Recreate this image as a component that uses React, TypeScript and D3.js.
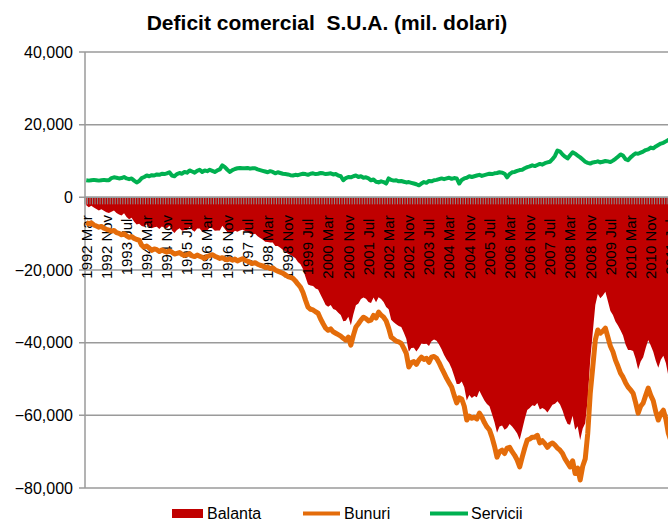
import React from 'react';
import * as d3 from 'd3';

const title = 'Deficit comercial  S.U.A. (mil. dolari)';
const monthNames = ['Jan', 'Feb', 'Mar', 'Apr', 'May', 'Jun', 'Jul', 'Aug', 'Sep', 'Oct', 'Nov', 'Dec'];
const startYear = 1992;
const startMonth = 2; // Mar
const labelStep = 8;
const yTicks = [-80000, -60000, -40000, -20000, 0, 20000, 40000];
const seriesNames = ['Balanta', 'Bunuri', 'Servicii'];

// goods, monthly, 1992 Mar .. 2011 Jul
const bunuri = [
  -6900, -7300, -7000, -7600, -7900, -8200, -8000, -8500, -8800, -9000,
  -9300, -9100, -9700, -9900, -10300, -10000, -10600, -11000, -10800, -11300, -11600, -11800,
  -13200, -13700, -13400, -14000, -14600, -14200, -14400, -14900, -14500, -14800, -15100, -14700,
  -15100, -15600, -15400, -15200, -15700, -16000, -15800, -15500, -16100, -16300, -15900, -16200,
  -16500, -16800, -16300, -16000, -15800, -16200, -16500, -16800, -16600, -17000, -17200, -16900,
  -17300, -17000, -17500, -17200, -16900, -17300, -17600, -17900, -18200, -18000, -18400, -18700,
  -18900, -19300, -19200, -19600, -19400, -20000, -20300, -20600, -20900, -21300, -21800, -22000,
  -22300, -23000, -23900, -24700, -26200, -28300, -30200, -30800, -31000, -31500, -31900, -33500,
  -34800, -36000, -36600, -36200, -37000, -37400, -37800, -38200, -38800, -39300, -38500, -40700,
  -38000, -35700, -34800, -33800, -33000, -33400, -34000, -33800, -32500, -33200, -31600, -32400,
  -33000, -34000, -36000, -38500, -39000, -39600, -39800, -40200, -41500, -43000, -46700, -45500,
  -45200, -46000, -44800, -44000, -44600, -44300, -45400, -44000, -43800, -44300, -45500, -47000,
  -48400, -49800, -51000, -52200, -54500, -56600, -55200, -55500, -57500, -61300, -60200, -60800,
  -60500, -61000, -59400, -60500, -62000, -63200, -64000, -66000, -68500, -71500, -70000, -69600,
  -70500, -69000, -68800, -70000, -71000, -72300, -74200, -71500, -69000, -66800, -66500, -66000,
  -66000, -65500, -67600, -67000, -67800, -68800, -68000, -67600, -68200, -69000, -69600, -70500,
  -72000, -73100, -74200, -72500, -76000, -74500, -77800, -74000, -72000, -65000, -53900, -46700,
  -39300, -36500, -37400, -36800, -36000, -38500, -41000, -42500, -44800, -46500, -48400, -49500,
  -51000, -52200, -53000, -53900, -56500, -59400, -57500, -56600, -54500, -52500, -54500, -56000,
  -59000, -61300, -59500, -58600, -61000, -65000, -67000,
];

// services, monthly, 1992 Mar .. 2011 Jul
const servicii = [
  4700, 4600, 4700, 4800, 4700, 4600, 4700, 4800, 4700, 4700,
  5300, 5500, 5400, 5200, 5300, 5600, 5200, 5000, 5200, 4600, 4100, 4500,
  5300, 5600, 6000, 5800, 6100, 6000, 6300, 6200, 6500, 6400, 6600, 6900,
  6000, 5800, 6400, 6700, 6500, 7000, 6800, 7400, 7100, 6800, 7300, 7600,
  7000, 7400, 7200, 7600, 7300, 7000, 7400, 7700, 8800, 8300, 7600, 7000,
  7500, 7800, 8000, 8100, 8000, 8000, 8100, 7900, 8000, 8000, 7700, 7500,
  7300, 7100, 6900, 7200, 7000, 6600, 6900, 6700, 6500, 6400, 6300, 6100,
  6000, 6200, 6100, 6300, 6500, 6400, 6200, 6500, 6600, 6400, 6500, 6700,
  6600, 6400, 6500, 6600, 6300, 6400, 6000, 5800, 4700, 5300, 5600, 5500,
  5800, 6000, 5600, 5800, 5400, 5500, 5200, 4700, 4900, 4300, 4100, 4400,
  4200, 3800, 5200, 4800, 4600, 4700, 4400, 4500, 4300, 4100, 4200, 4000,
  3800, 3600, 3300, 3800, 4200, 4000, 4500, 4400, 4700, 4800, 5000, 5200,
  5000, 5200, 5400, 5100, 5300, 5200, 3800, 4800, 5200, 5400, 5800, 5600,
  5800, 6000, 6200, 5900, 6100, 6300, 6500, 6400, 6600, 6700, 6900, 6800,
  6500, 5500, 6400, 6900, 7000, 7300, 7500, 7600, 8000, 8300, 8500, 8800,
  8600, 8900, 9200, 9000, 9400, 9600, 9800, 10500, 11400, 12900, 12600, 11800,
  11200, 10700, 11600, 12400, 12000, 11500, 11000, 10400, 9800, 9500, 9300, 9600,
  9700, 9900, 9600, 9800, 10000, 9900, 9700, 10100, 10600, 11200, 11800, 11500,
  10500, 10200, 11000, 11600, 12100, 12000, 12300, 12600, 13000, 13200, 13700, 13500,
  14000, 14400, 14800, 15000, 15400, 15800, 16100,
];

// trade balance = goods + services
const balanta = bunuri.map((v, i) => v + servicii[i]);

const categories = bunuri.map((_, i) => {
  const m = startMonth + i;
  return `${startYear + Math.floor(m / 12)} ${monthNames[m % 12]}`;
});

const colors = { balanta: '#c00000', bunuri: '#e46c0a', servicii: '#00b050' };

export default function App() {
  const width = 668;
  const height = 522;
  const left = 85;
  const step = 2.52;

  const x = d3.scaleBand<string>()
    .domain(categories)
    .range([left, left + step * categories.length]);
  const cx = (i: number) => (x(categories[i]) as number) + x.bandwidth() / 2;

  const y = d3.scaleLinear().domain([-80000, 40000]).range([488, 52]);

  const area = d3.area<number>()
    .x((_, i) => cx(i))
    .y0(y(0))
    .y1(d => y(d));
  const line = d3.line<number>()
    .x((_, i) => cx(i))
    .y(d => y(d));

  const fmt = d3.format(',');
  const font = '"Liberation Sans", Arial, sans-serif';

  return (
    <svg width={width} height={height} style={{ position: 'absolute', left: 0, top: 0 }} fontFamily={font}>
      <rect width={width} height={height} fill="#fff" />
      <text x={327} y={30} textAnchor="middle" fontSize={21} fontWeight="bold" style={{ whiteSpace: 'pre' }}>
        {title}
      </text>

      {/* gridlines */}
      {yTicks.map(t => (
        <g key={t}>
          <line x1={left - 6} x2={width} y1={y(t)} y2={y(t)} stroke="#9a9a9a" strokeWidth={1.5} />
          <text x={73} y={y(t)} dy="0.35em" textAnchor="end" fontSize={16}>{fmt(t)}</text>
        </g>
      ))}
      <line x1={left} x2={left} y1={y(40000)} y2={y(-80000)} stroke="#9a9a9a" strokeWidth={1.5} />

      <path d={area(balanta) as string} fill={colors.balanta} />

      {/* category ticks */}
      {categories.map(c => (
        <line key={c} x1={x(c) as number} x2={x(c) as number} y1={y(0)} y2={y(0) + 7} stroke="#8c8c8c" strokeWidth={1} />
      ))}
      <line x1={left} x2={width} y1={y(0)} y2={y(0)} stroke="#9a9a9a" strokeWidth={1.5} />

      {categories.map((c, i) => i % labelStep === 0 ? (
        <text key={c} transform={`translate(${cx(i)},247) rotate(-90)`} textAnchor="middle" dy="0.35em" fontSize={15}>{c}</text>
      ) : null)}

      <path d={line(bunuri) as string} fill="none" stroke={colors.bunuri} strokeWidth={5} strokeLinejoin="round" />
      <path d={line(servicii) as string} fill="none" stroke={colors.servicii} strokeWidth={4} strokeLinejoin="round" />

      {/* legend */}
      <rect x={172} y={509} width={31} height={9} fill={colors.balanta} />
      <text x={207} y={519} fontSize={16}>{seriesNames[0]}</text>
      <line x1={303} x2={340} y1={513.5} y2={513.5} stroke={colors.bunuri} strokeWidth={4} />
      <text x={344} y={519} fontSize={16}>{seriesNames[1]}</text>
      <line x1={430} x2={468} y1={513.5} y2={513.5} stroke={colors.servicii} strokeWidth={4} />
      <text x={471} y={519} fontSize={16}>{seriesNames[2]}</text>
    </svg>
  );
}
